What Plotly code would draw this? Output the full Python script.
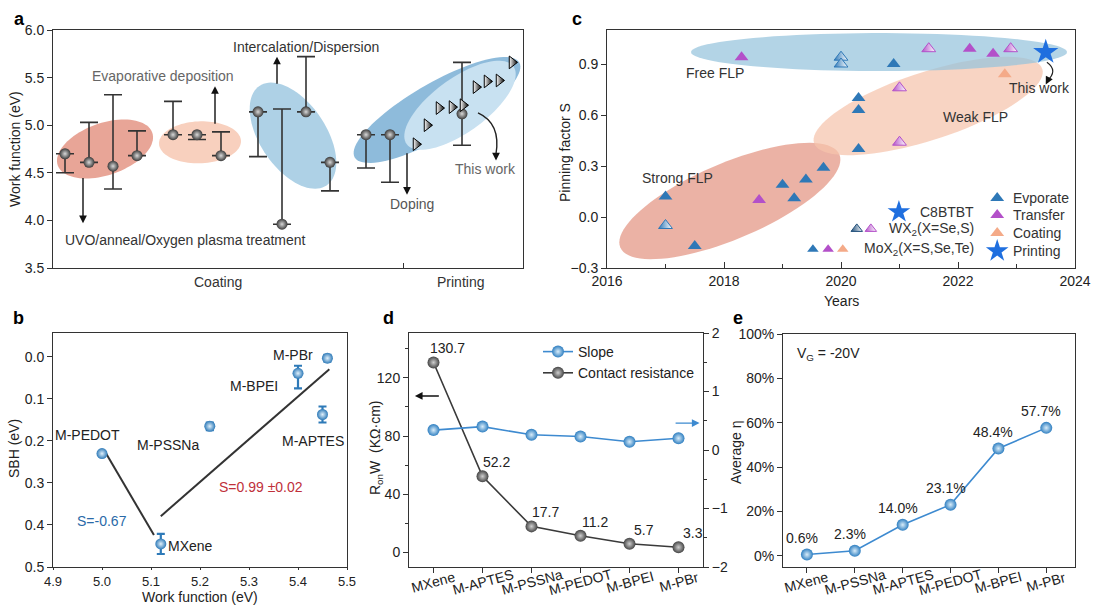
import numpy as np
import plotly.graph_objects as go

W, H = 1095, 606
FONT = "Liberation Sans, Arial, sans-serif"

def fx(px):
    return px / W

def fy(py):
    return 1 - py / H

# ---------------- panel a data ----------------
a_pos = [12, 36, 60, 84, 120, 144, 168, 205, 229, 253, 277, 313, 337, 409]
a_wf = [4.70, 4.61, 4.57, 4.68, 4.90, 4.90, 4.68, 5.14, 3.96, 5.14, 4.61, 4.90, 4.90, 5.12]
a_err_up = [0, 0.42, 0.75, 0.26, 0.35, 0, 0.25, 0, 1.21, 0.58, 0, 0, 0, 0.54]
a_err_dn = [0.20, 0, 0.24, 0, 0, 0.05, 0, 0.47, 0, 0, 0.30, 0.35, 0.50, 0.33]
a_tri_pos = [363, 374, 386, 399, 410, 423, 434, 446, 459]
a_tri_wf = [4.80, 5.00, 5.18, 5.19, 5.21, 5.40, 5.46, 5.47, 5.66]
a_groups = ["Coating", "Printing"]

# ---------------- panel c data ----------------
c_evap_year = [2017.0, 2017.5, 2019.0, 2019.2, 2019.4, 2019.7, 2020.3, 2020.3, 2020.3, 2020.9]
c_evap_s = [0.12, -0.17, 0.19, 0.11, 0.22, 0.29, 0.70, 0.63, 0.40, 0.90]
c_trans_year = [2018.3, 2018.6, 2022.2, 2022.6]
c_trans_s = [0.94, 0.10, 0.99, 0.96]
c_coat_year = [2022.8]
c_coat_s = [0.84]
c_print_year = [2023.5]
c_print_s = [0.97]
c_wx_evap_year = [2017.0, 2020.0, 2020.0]
c_wx_evap_s = [-0.05, 0.94, 0.90]
c_wx_trans_year = [2021.0, 2021.0, 2021.5, 2022.9]
c_wx_trans_s = [0.76, 0.44, 0.99, 0.99]

# ---------------- panel b data ----------------
b_names = ["M-PEDOT", "MXene", "M-PSSNa", "M-BPEI", "M-APTES", "M-PBr"]
b_wf = [5.00, 5.12, 5.22, 5.40, 5.45, 5.46]
b_sbh = [0.230, 0.445, 0.165, 0.039, 0.137, 0.003]
b_err_lo = [0.0, 0.024, 0.009, 0.018, 0.019, 0.008]
b_err_hi = [0.0, 0.024, 0.009, 0.036, 0.019, 0.008]
b_fit1_x = [5.006, 5.106]
b_fit1_y = [0.225, 0.424]
b_fit2_x = [5.12, 5.464]
b_fit2_y = [0.379, 0.029]

# ---------------- panel d data ----------------
d_cats = ["MXene", "M-APTES", "M-PSSNa", "M-PEDOT", "M-BPEI", "M-PBr"]
d_res = [130.7, 52.2, 17.7, 11.2, 5.7, 3.3]
d_slope = [0.34, 0.40, 0.26, 0.23, 0.14, 0.20]

# ---------------- panel e data ----------------
e_cats = ["MXene", "M-PSSNa", "M-APTES", "M-PEDOT", "M-BPEI", "M-PBr"]
e_eta = [0.6, 2.3, 14.0, 23.1, 48.4, 57.7]

fig = go.Figure()

sphere_gray = dict(symbol="circle", size=11, color="#3a3a3a",
                   gradient=dict(type="radial", color="#d8d8d8"), line=dict(width=0))

# ---- panel a traces
fig.add_trace(go.Scatter(
    x=a_pos, y=a_wf, mode="markers", xaxis="x", yaxis="y", showlegend=False,
    marker=sphere_gray,
    error_y=dict(type="data", symmetric=False, array=a_err_up, arrayminus=a_err_dn,
                 color="#333333", thickness=1.6, width=9)))
fig.add_trace(go.Scatter(
    x=a_tri_pos, y=a_tri_wf, mode="markers", xaxis="x", yaxis="y", showlegend=False,
    marker=dict(symbol="triangle-right", size=11, color="white",
                gradient=dict(type="horizontal", color="black"),
                line=dict(color="black", width=1))))

# ---- panel c traces
tri = dict(symbol="triangle-up", size=12, line=dict(width=0))
fig.add_trace(go.Scatter(x=c_evap_year, y=c_evap_s, mode="markers", xaxis="x2", yaxis="y2",
                         showlegend=False, marker=dict(tri, color="#2e78b7")))
fig.add_trace(go.Scatter(x=c_trans_year, y=c_trans_s, mode="markers", xaxis="x2", yaxis="y2",
                         showlegend=False, marker=dict(tri, color="#b350c9")))
fig.add_trace(go.Scatter(x=c_coat_year, y=c_coat_s, mode="markers", xaxis="x2", yaxis="y2",
                         showlegend=False, marker=dict(tri, color="#f4aa88")))
fig.add_trace(go.Scatter(x=c_wx_evap_year, y=c_wx_evap_s, mode="markers", xaxis="x2", yaxis="y2",
                         showlegend=False,
                         marker=dict(symbol="triangle-up", size=12, color="#2e78b7",
                                     gradient=dict(type="horizontal", color="white"),
                                     line=dict(color="#2e78b7", width=1))))
fig.add_trace(go.Scatter(x=c_wx_trans_year, y=c_wx_trans_s, mode="markers", xaxis="x2", yaxis="y2",
                         showlegend=False,
                         marker=dict(symbol="triangle-up", size=12, color="#b350c9",
                                     gradient=dict(type="horizontal", color="white"),
                                     line=dict(color="#b350c9", width=1))))
fig.add_trace(go.Scatter(x=c_print_year, y=c_print_s, mode="markers", xaxis="x2", yaxis="y2",
                         showlegend=False,
                         marker=dict(symbol="star", size=19, color="#1f6fdf", line=dict(width=0))))

# panel c legend symbols
leg_right_y = [0.112, 0.012, -0.094, -0.20]
leg_right_txt = ["Evporate", "Transfer", "Coating", "Printing"]
leg_right_col = ["#2e78b7", "#b350c9", "#f4aa88", "#1f6fdf"]
leg_right_sym = ["triangle-up", "triangle-up", "triangle-up", "star"]
leg_x_marker = 2022.67
for yv, c, s in zip(leg_right_y, leg_right_col, leg_right_sym):
    fig.add_trace(go.Scatter(x=[leg_x_marker], y=[yv], mode="markers", xaxis="x2", yaxis="y2",
                             showlegend=False,
                             marker=dict(symbol=s, size=17 if s == "star" else 12, color=c,
                                         line=dict(width=0))))
fig.add_trace(go.Scatter(x=[2020.99], y=[0.03], mode="markers", xaxis="x2", yaxis="y2",
                         showlegend=False,
                         marker=dict(symbol="star", size=17, color="#1f6fdf", line=dict(width=0))))
fig.add_trace(go.Scatter(x=[2020.27], y=[-0.07], mode="markers", xaxis="x2", yaxis="y2",
                         showlegend=False,
                         marker=dict(symbol="triangle-up", size=10, color="#1f4e79",
                                     gradient=dict(type="horizontal", color="white"),
                                     line=dict(color="#1f4e79", width=1))))
fig.add_trace(go.Scatter(x=[2020.51], y=[-0.07], mode="markers", xaxis="x2", yaxis="y2",
                         showlegend=False,
                         marker=dict(symbol="triangle-up", size=10, color="#b350c9",
                                     gradient=dict(type="horizontal", color="white"),
                                     line=dict(color="#b350c9", width=1))))
fig.add_trace(go.Scatter(x=[2019.52, 2019.78, 2020.03], y=[-0.19, -0.19, -0.19], mode="markers",
                         xaxis="x2", yaxis="y2", showlegend=False,
                         marker=dict(symbol="triangle-up", size=10,
                                     color=["#2e78b7", "#b350c9", "#f4aa88"], line=dict(width=0))))

# ---- panel b traces
sphere_blue = dict(symbol="circle", size=11, color="#2e7ab8",
                   gradient=dict(type="radial", color="#e0f0fb"), line=dict(width=0))
fig.add_trace(go.Scatter(x=b_fit1_x, y=b_fit1_y, mode="lines", xaxis="x3", yaxis="y3",
                         showlegend=False, line=dict(color="#333333", width=2)))
fig.add_trace(go.Scatter(x=b_fit2_x, y=b_fit2_y, mode="lines", xaxis="x3", yaxis="y3",
                         showlegend=False, line=dict(color="#333333", width=2)))
fig.add_trace(go.Scatter(
    x=b_wf, y=b_sbh, mode="markers", xaxis="x3", yaxis="y3", showlegend=False,
    marker=sphere_blue,
    error_y=dict(type="data", symmetric=False, array=b_err_hi, arrayminus=b_err_lo,
                 color="#2e7ab8", thickness=2.2, width=4)))

# ---- panel d traces
fig.add_trace(go.Scatter(
    x=d_cats, y=d_slope, mode="lines+markers", name="Slope", xaxis="x4", yaxis="y6",
    line=dict(color="#3d8ad0", width=1.6),
    marker=dict(symbol="circle", size=12, color="#2f7fc1",
                gradient=dict(type="radial", color="#d8ecf9"), line=dict(width=0))))
fig.add_trace(go.Scatter(
    x=d_cats, y=d_res, mode="lines+markers", name="Contact resistance", xaxis="x4", yaxis="y4",
    line=dict(color="#3a3a3a", width=1.6),
    marker=dict(symbol="circle", size=12, color="#444444",
                gradient=dict(type="radial", color="#cfcfcf"), line=dict(width=0))))

# ---- panel e traces
fig.add_trace(go.Scatter(
    x=e_cats, y=e_eta, mode="lines+markers", xaxis="x5", yaxis="y5", showlegend=False,
    line=dict(color="#3d8ad0", width=1.6),
    marker=dict(symbol="circle", size=12, color="#2f7fc1",
                gradient=dict(type="radial", color="#d8ecf9"), line=dict(width=0))))

# ---------------- ellipses ----------------
def ellipse_path(cx, cy, a, b, ang, sx, sy, n=90):
    t = np.linspace(0, 2 * np.pi, n, endpoint=False)
    th = np.radians(ang)
    dx = a * np.cos(t) * np.cos(th) - b * np.sin(t) * np.sin(th)
    dy = a * np.cos(t) * np.sin(th) + b * np.sin(t) * np.cos(th)
    xs = cx + dx / sx
    ys = cy + dy / sy
    return "M " + " L ".join(f"{x:.5f},{y:.5f}" for x, y in zip(xs, ys)) + " Z"

shapes = []
sa_x, sa_y = 1.0, 238 / 2.5
ell_a = [
    (52, 4.75, 50, 26, 19, "#e8a597"),
    (147, 4.82, 41, 21, 2, "#f8d0be"),
    (240, 4.89, 60, 33, -56, "#aed1e6"),
    (384, 5.16, 95, 27, 30, "#8ebbdb"),
    (407, 5.21, 66, 27, 36, "#c8e1f1"),
]
for cx, cy, a, b, ang, col in ell_a:
    shapes.append(dict(type="path", xref="x", yref="y", layer="below",
                       path=ellipse_path(cx, cy, a, b, ang, sa_x, sa_y),
                       fillcolor=col, line=dict(width=0)))
sc_x, sc_y = 468 / 8, 238 / 1.4
ell_c = [
    (2018.10, 0.094, 119, 38, 23, "rgba(228,152,135,0.75)"),
    (2021.49, 0.653, 120, 34, 18, "rgba(245,196,172,0.72)"),
    (2020.65, 0.970, 188, 19, 0, "rgba(150,196,221,0.72)"),
]
for cx, cy, a, b, ang, col in ell_c:
    shapes.append(dict(type="path", xref="x2", yref="y2", layer="below",
                       path=ellipse_path(cx, cy, a, b, ang, sc_x, sc_y),
                       fillcolor=col, line=dict(width=0)))

# curved arrows
shapes.append(dict(type="path", xref="x", yref="y", path="M 425,5.13 Q 448,5.02 443,4.70",
                   line=dict(color="#222", width=1.4)))
shapes.append(dict(type="path", xref="x2", yref="y2",
                   path="M 2023.52,0.91 Q 2023.72,0.86 2023.52,0.80",
                   line=dict(color="#222", width=1.2)))

ann = []
def txt(x, y, s, xref, yref, size=14, color="#333", xanchor="center", yanchor="middle", **kw):
    ann.append(dict(x=x, y=y, text=s, xref=xref, yref=yref, showarrow=False,
                    font=dict(size=size, color=color, family=FONT),
                    xanchor=xanchor, yanchor=yanchor, **kw))

def arrow(x, y, ax, ay, xref, yref, color="#111", head=2):
    ann.append(dict(x=x, y=y, ax=ax, ay=ay, xref=xref, yref=yref, axref=xref, ayref=yref,
                    text="", showarrow=True, arrowhead=head, arrowsize=1.1, arrowwidth=1.4,
                    arrowcolor=color))

# axis titles (placed as rotated/plain text)
txt(fx(15), fy(149), "Work function (eV)", "paper", "paper", color="#222", textangle=-90)
txt(fx(565), fy(153), "Pinning factor S", "paper", "paper", color="#222", textangle=-90)
txt(fx(841), fy(301), "Years", "paper", "paper", color="#222")
txt(fx(14), fy(449), "SBH (eV)", "paper", "paper", color="#222", textangle=-90)
txt(fx(200), fy(597), "Work function (eV)", "paper", "paper", color="#222")
txt(fx(376), fy(448), "R<sub>on</sub>W  (K\u03a9\u00b7cm)", "paper", "paper", color="#222",
    textangle=-90)
txt(fx(736), fy(452), "Average \u03b7", "paper", "paper", color="#222", textangle=-90)

# panel a annotations
arrow(30, 3.97, 30, 4.46, "x", "y")
txt(132, 3.79, "UVO/anneal/Oxygen plasma treatment", "x", "y")
arrow(162, 5.41, 162, 5.0, "x", "y")
txt(110, 5.52, "Evaporative deposition", "x", "y", color="#666")
arrow(224, 5.72, 224, 5.42, "x", "y")
txt(253, 5.82, "Intercalation/Dispersion", "x", "y")
arrow(354, 4.27, 354, 4.72, "x", "y")
txt(359, 4.17, "Doping", "x", "y", color="#555")
arrow(443, 4.63, 443, 4.72, "x", "y")
txt(432, 4.54, "This work", "x", "y", color="#666")
for lab, px in zip(a_groups, [218, 460]):
    txt(fx(px), fy(282), lab, "paper", "paper")

# panel c annotations
txt(2017.85, 0.85, "Free FLP", "x2", "y2")
txt(2017.2, 0.23, "Strong FLP", "x2", "y2")
txt(2022.3, 0.59, "Weak FLP", "x2", "y2")
txt(2023.4, 0.76, "This work", "x2", "y2")
arrow(2023.50, 0.78, 2023.56, 0.82, "x2", "y2", head=2)
for yv, t in zip(leg_right_y, leg_right_txt):
    txt(2022.9, yv, t, "x2", "y2", xanchor="left")
txt(2022.3, 0.03, "C8BTBT", "x2", "y2", xanchor="right")
txt(2022.3, -0.07, "WX<sub>2</sub>(X=Se,S)", "x2", "y2", xanchor="right")
txt(2022.3, -0.19, "MoX<sub>2</sub>(X=S,Se,Te)", "x2", "y2", xanchor="right")

# panel b annotations
b_lab_x = [4.97, 5.18, 5.135, 5.31, 5.43, 5.39]
b_lab_y = [0.185, 0.45, 0.21, 0.07, 0.20, -0.005]
for n, xv, yv in zip(b_names, b_lab_x, b_lab_y):
    txt(xv, yv, n, "x3", "y3", color="#222")
txt(5.0, 0.39, "S=-0.67", "x3", "y3", color="#2a6aa8")
txt(5.325, 0.31, "S=0.99 \u00b10.02", "x3", "y3", color="#c0303a")

# panel d annotations
for c, v in zip(d_cats, d_res):
    ann.append(dict(x=c, y=v, xref="x4", yref="y4", text=f"{v:.1f}", showarrow=False,
                    xshift=14, yshift=14, font=dict(size=14, color="#222", family=FONT)))
arrow(-0.38, 107.6, 0.14, 107.6, "x4", "y4", color="#111")
ann.append(dict(x=5.43, y=0.46, ax=4.91, ay=0.46, xref="x4", yref="y6", axref="x4", ayref="y6",
                text="", showarrow=True, arrowhead=2, arrowsize=1.1, arrowwidth=1.4,
                arrowcolor="#3d8ad0"))
# rotated category labels (centered on ticks)
for c in d_cats:
    ann.append(dict(x=c, y=fy(582), xref="x4", yref="paper", text=c, showarrow=False,
                    textangle=-15, xanchor="center", yanchor="middle",
                    font=dict(size=14, color="#222", family=FONT)))

# panel e annotations
for c, v in zip(e_cats, e_eta):
    ann.append(dict(x=c, y=v, xref="x5", yref="y5", text=f"{v:.1f}%", showarrow=False,
                    xshift=-5, yshift=17, font=dict(size=14, color="#222", family=FONT)))
for c in e_cats:
    ann.append(dict(x=c, y=fy(582), xref="x5", yref="paper", text=c, showarrow=False,
                    textangle=-15, xanchor="center", yanchor="middle",
                    font=dict(size=14, color="#222", family=FONT)))
txt(fx(795), fy(354), "V<sub>G</sub> = -20V", "paper", "paper", xanchor="left", color="#222")

# panel labels
for lab, px, py in [("a", 19, 19), ("b", 18, 318), ("c", 577, 19), ("d", 388, 318), ("e", 738, 318)]:
    txt(fx(px), fy(py), f"<b>{lab}</b>", "paper", "paper", size=18, color="#000")

base = dict(showline=True, linecolor="#333", linewidth=1, mirror=True, ticks="outside",
            ticklen=5, tickcolor="#333", showgrid=False, zeroline=False, automargin=False,
            tickfont=dict(size=14, color="#222", family=FONT))

ya_dom = [fy(268), fy(30)]
yb_dom = [fy(567), fy(333)]

fig.update_layout(
    template="none",
    width=W, height=H, margin=dict(l=0, r=0, t=0, b=0, pad=0), autosize=False,
    paper_bgcolor="white", plot_bgcolor="white",
    font=dict(family=FONT, size=14, color="#222"),
    shapes=shapes, annotations=ann,
    xaxis=dict(base, domain=[fx(53), fx(523)], anchor="y", range=[0, 470],
               tickvals=[350], showticklabels=False, ticks="inside"),
    yaxis=dict(base, domain=ya_dom, anchor="x", range=[3.5, 6.0], dtick=0.5, tickformat=".1f"),
    xaxis2=dict(base, domain=[fx(607), fx(1075)], anchor="y2", range=[2016, 2024], dtick=2,
                ticks="inside", ticklen=6,
                minor=dict(dtick=1, ticks="inside", ticklen=4, tickcolor="#333")),
    yaxis2=dict(base, domain=ya_dom, anchor="x2", range=[-0.3, 1.1],
                tickvals=[-0.3, 0, 0.3, 0.6, 0.9], tickformat=".1f"),
    xaxis3=dict(base, domain=[fx(53), fx(347)], anchor="y3", range=[4.9, 5.5], dtick=0.1,
                tickformat=".1f", ticklen=2, tickfont=dict(size=13, color="#222", family=FONT)),
    yaxis3=dict(base, domain=yb_dom, anchor="x3", range=[0.5, -0.057], dtick=0.1,
                tickformat=".1f"),
    xaxis4=dict(base, domain=[fx(409), fx(703)], anchor="y4", range=[-0.5, 5.5],
                type="category", showticklabels=False),
    yaxis4=dict(base, domain=yb_dom, anchor="x4", range=[-10.3, 151], tickvals=[0, 40, 80, 120],
                minor=dict(tickvals=[20, 60, 100, 140], ticks="outside", ticklen=3, tickcolor="#333")),
    yaxis6=dict(base, overlaying="y4", side="right", anchor="x4", range=[-2, 2], dtick=1,
                mirror=False,
                minor=dict(dtick=0.5, ticks="outside", ticklen=3, tickcolor="#333")),
    xaxis5=dict(base, domain=[fx(783), fx(1075)], anchor="y5", range=[-0.5, 5.6],
                type="category", showticklabels=False),
    yaxis5=dict(base, domain=[fy(567), fy(334)], anchor="x5", range=[-5, 100], dtick=20,
                ticksuffix="%"),
    showlegend=True,
    legend=dict(x=fx(538), y=fy(336), xanchor="left", yanchor="top", bgcolor="rgba(0,0,0,0)",
                font=dict(size=14, color="#222", family=FONT), tracegroupgap=0,
                itemclick=False, borderwidth=0),
)

fig.write_html("out.html", config={"displayModeBar": False},
               post_script="document.body.style.margin='0px';")
